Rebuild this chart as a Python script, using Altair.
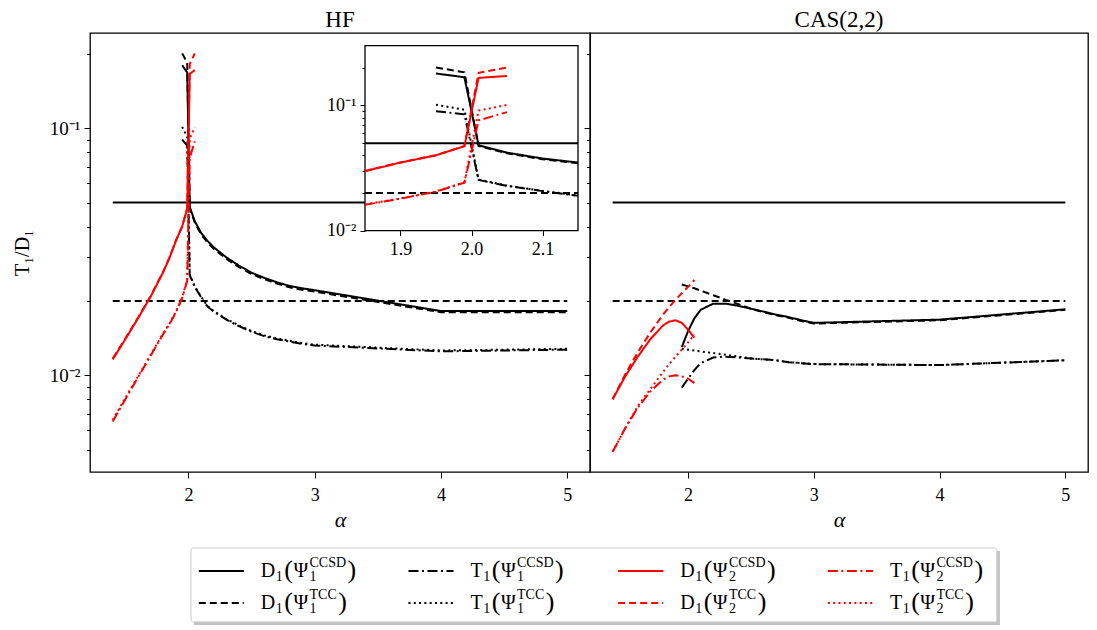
import altair as alt
import pandas as pd

# ---------------- values ----------------
thr_alpha = [1.4, 5.0]
thr_D1 = [0.05, 0.05]
thr_T1 = [0.02, 0.02]

# HF reference panel
hf_red_alpha = [1.4, 1.5, 1.6, 1.7, 1.8, 1.85, 1.9, 1.95, 1.99, 2.01, 2.05]
hf_D1_P2_CCSD = [0.0116, 0.0140, 0.0170, 0.0208, 0.0262, 0.0299, 0.0350, 0.0400, 0.0473, 0.166, 0.172]
hf_D1_P2_TCC = [0.0117, 0.0141, 0.0171, 0.0209, 0.0263, 0.0300, 0.0351, 0.0401, 0.0474, 0.182, 0.201]
hf_T1_P2_CCSD = [0.0065, 0.0080, 0.0098, 0.0120, 0.0147, 0.0161, 0.0180, 0.0205, 0.0242, 0.076, 0.0885]
hf_T1_P2_TCC = [0.0066, 0.0081, 0.0099, 0.0121, 0.0148, 0.0162, 0.0181, 0.0206, 0.0244, 0.091, 0.101]

hf_black_alpha = [1.95, 1.99, 2.01, 2.05, 2.1, 2.15, 2.2, 2.3, 2.4, 2.5, 2.6, 2.7, 2.8, 2.9, 3.0, 4.0, 5.0]
hf_D1_P1_CCSD = [0.180, 0.168, 0.048, 0.042, 0.0377, 0.035, 0.033, 0.030, 0.0278, 0.026, 0.0248, 0.0238, 0.0230, 0.0225, 0.0221, 0.0182, 0.0182]
hf_D1_P1_TCC = [0.201, 0.184, 0.0475, 0.0415, 0.0372, 0.0345, 0.0325, 0.0296, 0.0274, 0.0257, 0.0245, 0.0235, 0.0227, 0.0222, 0.0218, 0.0180, 0.0180]
hf_T1_P1_CCSD = [0.090, 0.085, 0.0254, 0.0228, 0.0207, 0.0190, 0.0181, 0.0168, 0.0158, 0.0150, 0.0144, 0.0140, 0.0137, 0.0134, 0.0132, 0.0125, 0.0127]
hf_T1_P1_TCC = [0.1013, 0.0924, 0.0256, 0.0229, 0.0208, 0.0191, 0.0182, 0.0169, 0.0159, 0.0151, 0.0145, 0.0141, 0.0138, 0.0135, 0.0133, 0.0126, 0.0128]

# CAS(2,2) reference panel
cas_red_alpha = [1.4, 1.5, 1.6, 1.7, 1.8, 1.85, 1.9, 1.95, 2.0, 2.05]
cas_D1_P2_CCSD = [0.0080, 0.0099, 0.0119, 0.0140, 0.0159, 0.0165, 0.0167, 0.0163, 0.0153, 0.0142]
cas_D1_P2_TCC = [0.0080, 0.0101, 0.0124, 0.0149, 0.0176, 0.0189, 0.0202, 0.0215, 0.0228, 0.0243]
cas_T1_P2_CCSD = [0.0049, 0.0061, 0.0074, 0.0086, 0.0096, 0.0099, 0.0100, 0.0099, 0.0097, 0.0093]
cas_T1_P2_TCC = [0.0049, 0.0061, 0.0075, 0.0088, 0.0103, 0.0111, 0.0119, 0.0127, 0.0136, 0.0146]

cas_black_alpha = [1.95, 2.0, 2.05, 2.1, 2.2, 2.3, 2.4, 2.5, 2.6, 2.7, 2.8, 2.9, 3.0, 4.0, 5.0]
cas_D1_P1_CCSD = [0.0130, 0.0151, 0.0170, 0.0184, 0.0195, 0.0195, 0.0191, 0.0186, 0.0181, 0.0176, 0.0172, 0.0167, 0.0163, 0.0168, 0.0185]
cas_D1_P1_TCC = [0.0233, 0.0229, 0.0225, 0.0220, 0.0211, 0.0202, 0.0194, 0.0186, 0.0180, 0.0175, 0.0171, 0.0166, 0.0162, 0.0167, 0.0184]
cas_T1_P1_CCSD = [0.0089, 0.0097, 0.0105, 0.0112, 0.0118, 0.0119, 0.0118, 0.0117, 0.0116, 0.0115, 0.0113, 0.0112, 0.0111, 0.0110, 0.0115]
cas_T1_P1_TCC = [0.0128, 0.0127, 0.0126, 0.0125, 0.0123, 0.0121, 0.0119, 0.0117, 0.0116, 0.0115, 0.0113, 0.0112, 0.0111, 0.0110, 0.0115]

# tick values and labels
x_ticks = [2, 3, 4, 5]
inset_x_ticks = [1.9, 2.0, 2.1]
y_ticks = [0.005, 0.006, 0.007, 0.008, 0.009, 0.01, 0.02, 0.03, 0.04, 0.05,
           0.06, 0.07, 0.08, 0.09, 0.1, 0.2]
inset_y_ticks = [0.01, 0.02, 0.03, 0.04, 0.05, 0.06, 0.07, 0.08, 0.09, 0.1, 0.2]
panel_titles = ["HF", "CAS(2,2)"]
y_title = "T₁/D₁"
x_title = "α"

# legend entries (column-major, as in the figure)
legend_keys = ["D1_P1_CCSD", "D1_P1_TCC", "T1_P1_CCSD", "T1_P1_TCC",
               "D1_P2_CCSD", "D1_P2_TCC", "T1_P2_CCSD", "T1_P2_TCC"]
legend_letter = ["D", "D", "T", "T", "D", "D", "T", "T"]
legend_state = ["1", "1", "1", "1", "2", "2", "2", "2"]
legend_method = ["CCSD", "TCC", "CCSD", "TCC", "CCSD", "TCC", "CCSD", "TCC"]

# ---------------- styles ----------------
FONT = "Liberation Serif"
SERIES = ["thr_D1", "thr_T1", "D1_P1_CCSD", "D1_P1_TCC", "T1_P1_CCSD", "T1_P1_TCC",
          "D1_P2_CCSD", "D1_P2_TCC", "T1_P2_CCSD", "T1_P2_TCC"]
SOLID, DASH, DASHDOT, DOT = [1, 0], [7, 4], [10, 3.5, 2, 3.5], [2, 3.3]
COLORS = ["black"] * 6 + ["red"] * 4
DASHES = [SOLID, DASH, SOLID, DASH, DASHDOT, DOT, SOLID, DASH, DASHDOT, DOT]
LW = 2

W_L, W_R, H = 500, 498, 439
IX0, IX1 = 0.55 * W_L, 0.976 * W_L
IY0, IY1 = 12.7, 197.7

# ---------------- tables ----------------
def table(panel, parts):
    rows = []
    for key, alphas, vals in parts:
        for a, v in zip(alphas, vals):
            rows.append({"panel": panel, "series": key, "alpha": a, "value": v})
    return pd.DataFrame(rows)

thr_df = table("thr", [("thr_D1", thr_alpha, thr_D1), ("thr_T1", thr_alpha, thr_T1)])
hf_df = table("HF", [
    ("D1_P1_CCSD", hf_black_alpha, hf_D1_P1_CCSD), ("D1_P1_TCC", hf_black_alpha, hf_D1_P1_TCC),
    ("T1_P1_CCSD", hf_black_alpha, hf_T1_P1_CCSD), ("T1_P1_TCC", hf_black_alpha, hf_T1_P1_TCC),
    ("D1_P2_CCSD", hf_red_alpha, hf_D1_P2_CCSD), ("D1_P2_TCC", hf_red_alpha, hf_D1_P2_TCC),
    ("T1_P2_CCSD", hf_red_alpha, hf_T1_P2_CCSD), ("T1_P2_TCC", hf_red_alpha, hf_T1_P2_TCC)])
cas_df = table("CAS", [
    ("D1_P1_CCSD", cas_black_alpha, cas_D1_P1_CCSD), ("D1_P1_TCC", cas_black_alpha, cas_D1_P1_TCC),
    ("T1_P1_CCSD", cas_black_alpha, cas_T1_P1_CCSD), ("T1_P1_TCC", cas_black_alpha, cas_T1_P1_TCC),
    ("D1_P2_CCSD", cas_red_alpha, cas_D1_P2_CCSD), ("D1_P2_TCC", cas_red_alpha, cas_D1_P2_TCC),
    ("T1_P2_CCSD", cas_red_alpha, cas_T1_P2_CCSD), ("T1_P2_TCC", cas_red_alpha, cas_T1_P2_TCC)])

color_enc = alt.Color("series:N", scale=alt.Scale(domain=SERIES, range=COLORS), legend=None)
dash_enc = alt.StrokeDash("series:N", scale=alt.Scale(domain=SERIES, range=DASHES), legend=None)

# ---------------- axes ----------------
MAJOR = "abs(log(datum.value)/LN10 - round(log(datum.value)/LN10)) < 0.001"
LOGLAB = "(" + MAJOR + ") ? (datum.value > 0.05 ? '10⁻¹' : '10⁻²') : ''"


def y_axis(values, labels=True, title=None, offset=0, major=6, minor=3.5, size=19):
    kw = dict(orient="left", values=values, domain=False, grid=False,
              tickSize={"condition": {"test": MAJOR, "value": major}, "value": minor},
              tickColor="black", tickWidth=1, labelOverlap=False, labelFont=FONT,
              labelFontSize=size, labelColor="black", labelPadding=4, offset=offset)
    if labels:
        kw["labelExpr"] = LOGLAB
    else:
        kw.update(labels=False, minExtent=0, maxExtent=0)
    if title:
        kw.update(title=title, titleFont=FONT, titleFontSize=20, titleFontWeight="normal",
                  titleColor="black", titlePadding=17)
    else:
        kw["title"] = None
    return alt.Axis(**kw)


def x_axis(values, title=None, offset=0, fmt="d", tick=6, pad=8):
    kw = dict(orient="bottom", values=values, format=fmt, domain=False, grid=False,
              tickSize=tick, tickColor="black", tickWidth=1, labelFont=FONT, labelFontSize=18,
              labelColor="black", labelPadding=pad, labelFlush=False, offset=offset)
    if title:
        kw.update(title=title, titleFont=FONT, titleFontSize=22, titleFontStyle="italic",
                  titleFontWeight="normal", titleColor="black", titlePadding=5)
    else:
        kw["title"] = None
    return alt.Axis(**kw)


x_main = alt.Scale(domain=[1.22, 5.18], nice=False, zero=False)
y_main = alt.Scale(type="log", domain=[0.00406, 0.243], nice=False)


def main_layers(df, y_ax):
    thr = alt.Chart(thr_df).mark_line(strokeWidth=LW).encode(
        x=alt.X("alpha:Q", scale=x_main, axis=x_axis(x_ticks, x_title)),
        y=alt.Y("value:Q", scale=y_main, axis=y_ax),
        color=color_enc, strokeDash=dash_enc)
    lines = alt.Chart(df).mark_line(strokeWidth=LW).encode(
        x=alt.X("alpha:Q", scale=x_main, axis=x_axis(x_ticks, x_title)),
        y=alt.Y("value:Q", scale=y_main, axis=y_ax),
        color=color_enc, strokeDash=dash_enc)
    return alt.layer(thr, lines)


title_kw = dict(font=FONT, fontSize=23, fontWeight="normal", color="black", offset=1, anchor="middle")

# ---- inset (zoom around alpha = 2 in HF panel) ----
ix = alt.Scale(domain=[1.85, 2.15], range=[IX0, IX1], clamp=True, nice=False, zero=False)
iy = alt.Scale(type="log", domain=[0.01, 0.3], range=[IY1, IY0], clamp=True, nice=False)
ixa = x_axis(inset_x_ticks, None, offset=IY1 - H, fmt=".1f", tick=5, pad=5)
iya = y_axis(inset_y_ticks, True, None, offset=-IX0, major=5, minor=3, size=18)

box_df = pd.DataFrame({"x0": [1.85], "x1": [2.15], "y0": [0.01], "y1": [0.3]})
inset_box = alt.Chart(box_df).mark_rect(fill="white", stroke="black", strokeWidth=1.3).encode(
    x=alt.X("x0:Q", scale=ix, axis=ixa), x2="x1:Q",
    y=alt.Y("y0:Q", scale=iy, axis=iya), y2="y1:Q")
inset_thr = alt.Chart(thr_df).mark_line(strokeWidth=LW).encode(
    x=alt.X("alpha:Q", scale=ix, axis=ixa), y=alt.Y("value:Q", scale=iy, axis=iya),
    color=color_enc, strokeDash=dash_enc)
inset_lines = alt.Chart(hf_df).transform_filter(
    "datum.alpha >= 1.85 && datum.alpha <= 2.15").mark_line(strokeWidth=LW).encode(
    x=alt.X("alpha:Q", scale=ix, axis=ixa), y=alt.Y("value:Q", scale=iy, axis=iya),
    color=color_enc, strokeDash=dash_enc)

left = alt.layer(
    main_layers(hf_df, y_axis(y_ticks, True, y_title)),
    alt.layer(inset_box, inset_thr, inset_lines),
).resolve_scale(x="independent", y="independent").properties(
    width=W_L, height=H, title=alt.TitleParams(panel_titles[0], **title_kw))

right = main_layers(cas_df, y_axis(y_ticks, False, None)).properties(
    width=W_R, height=H, title=alt.TitleParams(panel_titles[1], **title_kw))

top = alt.hconcat(left, right, spacing=0, bounds="flush")

# ---------------- custom legend ----------------
PITCH, ROWP = 209.7, 32.0
PLOT_LEFT = 91.0
LX0 = -0.037 - (192 - PLOT_LEFT) / PITCH
LW_LEG = 915
LX1 = LX0 + LW_LEG / PITCH
LY0, LY1 = -0.75, 1.66
LH = (LY1 - LY0) * ROWP
HANDLE, TEXT0 = 0.215, 0.296
F, FS, FP, SUB, SUP = 20, 14, 26, 6, -8
CW = {"D": 0.722, "T": 0.611, "(": 0.333, ")": 0.333, "Ψ": 0.78, "1": 0.5, "2": 0.5,
      "C": 0.667, "S": 0.556}


def wid(s, fs):
    return sum(CW.get(ch, 0.55) for ch in s) * fs


handles, pieces = [], []
for i, key in enumerate(legend_keys):
    c, r = i // 2, i % 2
    handles.append({"series": key, "c0": c, "c1": c + HANDLE, "row": r})
    parts = []
    off = 0.0
    parts.append((legend_letter[i], F, off, 0))
    off += wid(legend_letter[i], F) + 0.5
    parts.append(("1", FS, off, SUB))
    off += wid("1", FS) + 1.5
    parts.append(("(", FP, off, -1))
    off += wid("(", FP) + 0.5
    parts.append(("Ψ", F, off, 0))
    off += wid("Ψ", F) + 0.5
    parts.append((legend_state[i], FS, off, SUB))
    parts.append((legend_method[i], FS, off, SUP))
    off += wid(legend_method[i], FS) + 1.5
    parts.append((")", FP, off, -1))
    for txt, fs, o, dy in parts:
        pieces.append({"text": txt, "fs": fs, "x": c + TEXT0 + o / PITCH, "y": r + dy / ROWP})

handles_df = pd.DataFrame(handles)
pieces_df = pd.DataFrame(pieces)
lx = alt.Scale(domain=[LX0, LX1], nice=False, zero=False)
ly = alt.Scale(domain=[LY0, LY1], nice=False, zero=False, reverse=True)
box_leg = pd.DataFrame({"x0": [-0.037], "x1": [3.806], "y0": [-0.72], "y1": [1.59]})
sh = pd.DataFrame({"x0": [-0.037 + 3 / PITCH], "x1": [3.806 + 3 / PITCH],
                   "y0": [-0.72 + 3 / ROWP], "y1": [1.59 + 3 / ROWP]})

leg_shadow = alt.Chart(sh).mark_rect(fill="#9a9a9a", opacity=0.6).encode(
    x=alt.X("x0:Q", scale=lx, axis=None), x2="x1:Q",
    y=alt.Y("y0:Q", scale=ly, axis=None), y2="y1:Q")
leg_box = alt.Chart(box_leg).mark_rect(fill="white", stroke="#cccccc", strokeWidth=1,
                                        cornerRadius=2).encode(
    x=alt.X("x0:Q", scale=lx, axis=None), x2="x1:Q",
    y=alt.Y("y0:Q", scale=ly, axis=None), y2="y1:Q")
leg_lines = alt.Chart(handles_df).mark_rule(strokeWidth=LW).encode(
    x=alt.X("c0:Q", scale=lx, axis=None), x2="c1:Q",
    y=alt.Y("row:Q", scale=ly, axis=None),
    color=color_enc, strokeDash=dash_enc)
leg_text = alt.Chart(pieces_df).mark_text(align="left", baseline="middle", font=FONT,
                                          color="black").encode(
    x=alt.X("x:Q", scale=lx, axis=None), y=alt.Y("y:Q", scale=ly, axis=None),
    text="text:N", size=alt.Size("fs:Q", scale=None, legend=None))

legend = alt.layer(leg_shadow, leg_box, leg_lines, leg_text).properties(
    width=LW_LEG, height=LH, view=alt.ViewBackground(strokeOpacity=0))

chart = alt.vconcat(top, legend, spacing=16).configure(
    font=FONT, padding={"left": 3, "top": 0, "right": 0, "bottom": 0}
).configure_view(stroke="black", strokeWidth=1.3)

chart.save("out.html", embed_options={"renderer": "svg", "actions": False})
